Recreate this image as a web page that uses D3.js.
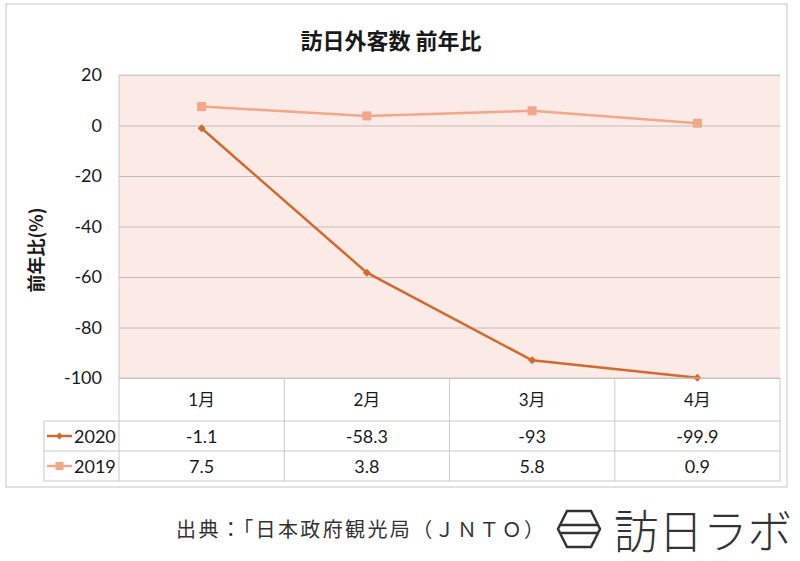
<!DOCTYPE html>
<html><head><meta charset="utf-8">
<script src="https://cdn.jsdelivr.net/npm/d3@7/dist/d3.min.js"></script>
<style>body{margin:0;background:#fff}svg{display:block}</style>
</head><body><svg id="c" width="800" height="561"></svg>
<script>
const months = ["1月","2月","3月","4月"];
const series2020 = [-1.1, -58.3, -93, -99.9];
const series2019 = [7.5, 3.8, 5.8, 0.9];
const seriesNames = ["2020","2019"];
const yTicks = [20, 0, -20, -40, -60, -80, -100];
const tableText2020 = ["-1.1","-58.3","-93","-99.9"];
const tableText2019 = ["7.5","3.8","5.8","0.9"];

const svg = d3.select("#c");
const font = "'Noto Sans CJK JP','Noto Sans',sans-serif";
const nfont = "Lato,'Noto Sans CJK JP',sans-serif";
const L = 119, R = 780, T = 75, B = 378;
const x = d3.scaleBand().domain(months).range([L, R]);
const y = d3.scaleLinear().domain([-100, 20]).range([B, T]);
const colors = ["#d2692f", "#f2a68a"];

// outer border
svg.append("rect").attr("x",6).attr("y",4).attr("width",781).attr("height",483)
  .attr("fill","#fff").attr("stroke","#d9d9d9").attr("stroke-width",1.5);

// title
svg.append("text").attr("x",391).attr("y",49).attr("text-anchor","middle")
  .attr("font-family",font).attr("font-weight","bold").attr("font-size",22).attr("fill","#1a1a1a")
  .text("訪日外客数 前年比");

// plot bg
svg.append("rect").attr("x",L).attr("y",T).attr("width",R-L).attr("height",B-T).attr("fill","#fbeae5");

// grid
const yAxis = d3.axisLeft(y).tickValues(yTicks).tickSize(-(R-L)).tickPadding(17).tickFormat(d=>String(d));
const ga = svg.append("g").attr("transform",`translate(${L},0)`).call(yAxis);
ga.select(".domain").remove();
ga.selectAll(".tick line").attr("stroke","#c4bcba").attr("stroke-width",1);
ga.selectAll(".tick text").attr("font-family",nfont).attr("font-size",18).attr("fill","#1a1a1a");
svg.append("line").attr("x1",L).attr("x2",L).attr("y1",T).attr("y2",B).attr("stroke","#c8c8c8");
svg.append("line").attr("x1",L).attr("x2",R).attr("y1",T).attr("y2",T).attr("stroke","#d0d0d0");

// y label
svg.append("text").attr("transform","translate(43,250) rotate(-90)").attr("text-anchor","middle")
  .attr("font-family",font).attr("font-weight","bold").attr("font-size",18).attr("fill","#1a1a1a")
  .text("前年比(%)");

// lines
const cx = d => x(d) + x.bandwidth()/2;
const line = d3.line().x((d,i)=>cx(months[i])).y(d=>y(d));
svg.append("path").datum(series2019).attr("d",line).attr("fill","none").attr("stroke",colors[1]).attr("stroke-width",2.5);
svg.selectAll(".sq").data(series2019).join("rect").attr("x",(d,i)=>cx(months[i])-4.5).attr("y",d=>y(d)-4.5)
  .attr("width",9).attr("height",9).attr("fill",colors[1]);
svg.append("path").datum(series2020).attr("d",line).attr("fill","none").attr("stroke",colors[0]).attr("stroke-width",2.5);
svg.selectAll(".dm").data(series2020).join("path")
  .attr("d",d3.symbol(d3.symbolDiamond2, 40))
  .attr("transform",(d,i)=>`translate(${cx(months[i])},${y(d)})`).attr("fill",colors[0]);

// table
const rowY = [378, 421, 451, 481];
const gridC = "#c8c8c8";
const tb = svg.append("g");
tb.append("line").attr("x1",L).attr("x2",R).attr("y1",rowY[0]).attr("y2",rowY[0]).attr("stroke",gridC);
[1,2,3].forEach(k=>tb.append("line").attr("x1",44).attr("x2",R).attr("y1",rowY[k]).attr("y2",rowY[k]).attr("stroke",gridC));
months.forEach(m=>tb.append("line").attr("x1",x(m)).attr("x2",x(m)).attr("y1",rowY[0]).attr("y2",rowY[3]).attr("stroke",gridC));
tb.append("line").attr("x1",R).attr("x2",R).attr("y1",rowY[0]).attr("y2",rowY[3]).attr("stroke",gridC);
tb.append("line").attr("x1",44).attr("x2",44).attr("y1",rowY[1]).attr("y2",rowY[3]).attr("stroke",gridC);
months.forEach(m=>tb.append("text").attr("x",cx(m)).attr("y",406).attr("text-anchor","middle")
  .attr("font-family",nfont).attr("font-size",17).attr("fill","#1a1a1a").text(m));
const texts = [tableText2020, tableText2019];
texts.forEach((arr,r)=>{
  arr.forEach((t,i)=>tb.append("text").attr("x",cx(months[i])).attr("y",rowY[r+1]+22).attr("text-anchor","middle")
    .attr("font-family",nfont).attr("font-size",18).attr("fill","#1a1a1a").text(t));
  const ly = (rowY[r+1]+rowY[r+2])/2;
  tb.append("line").attr("x1",47).attr("x2",72).attr("y1",ly).attr("y2",ly).attr("stroke",colors[r]).attr("stroke-width",2.5);
  if(r===0) tb.append("path").attr("d",d3.symbol(d3.symbolDiamond2,30)).attr("transform",`translate(59.5,${ly})`).attr("fill",colors[0]);
  else tb.append("rect").attr("x",55.5).attr("y",ly-4).attr("width",8).attr("height",8).attr("fill",colors[1]);
  tb.append("text").attr("x",74).attr("y",ly+7).attr("font-family",nfont).attr("font-size",18).attr("fill","#1a1a1a").text(seriesNames[r]);
});

// footer
svg.append("text").attr("x",176).attr("y",537).attr("font-family",font).attr("font-size",20).attr("fill","#333")
  .attr("textLength",368).attr("lengthAdjust","spacing")
  .text("出典：「日本政府観光局（ＪＮＴＯ）");
// logo hexagon
const lg = svg.append("g").attr("transform","translate(579,529)");
lg.append("path").attr("d","M-12,-18 L12,-18 L21,0 L12,18 L-12,18 L-21,0 Z").attr("fill","none").attr("stroke","#333").attr("stroke-width",2.5);
lg.append("line").attr("x1",-19).attr("x2",19).attr("y1",-4).attr("y2",-4).attr("stroke","#333").attr("stroke-width",2.5);
lg.append("line").attr("x1",-19).attr("x2",19).attr("y1",4).attr("y2",4).attr("stroke","#333").attr("stroke-width",2.5);
svg.append("text").attr("x",614).attr("y",548).attr("font-family",font).attr("font-size",46).attr("font-weight",300)
  .attr("fill","#333").attr("textLength",178).attr("lengthAdjust","spacingAndGlyphs").text("訪日ラボ");
</script></body></html>
